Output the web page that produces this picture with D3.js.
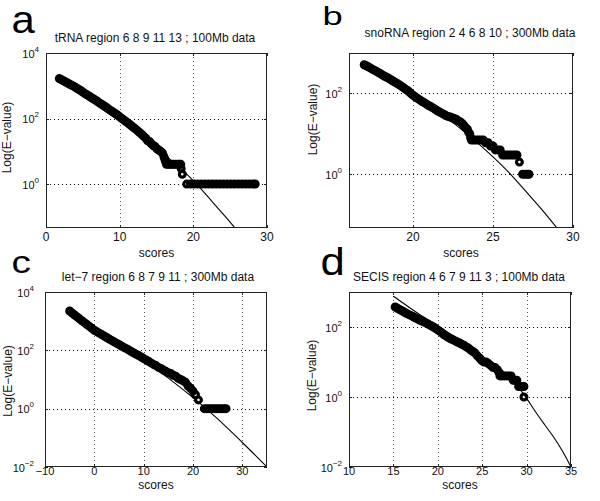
<!DOCTYPE html>
<html><head><meta charset="utf-8">
<script src="https://cdn.jsdelivr.net/npm/d3@7/dist/d3.min.js"></script>
<style>
html,body{margin:0;padding:0;background:#fff;}
svg{display:block;font-family:"Liberation Sans",Arial,Helvetica,sans-serif;}
</style></head>
<body>
<svg id="chart" width="600" height="501"></svg>
<script>
// ---------- DATA ----------
// Panel a: tRNA
const aScores = [1.8,2.05,2.3,2.55,2.8,3.05,3.3,3.55,3.8,4.05,4.3,4.55,4.8,5.05,5.3,5.55,5.8,6.05,6.3,6.55,6.8,7.05,7.3,7.55,7.8,8.05,8.3,8.55,8.8,9.05,9.3,9.55,9.8,10.05,10.3,10.55,10.8,11.05,11.3,11.55,11.8,12.05,12.3,12.55,12.8,13.05,13.3,13.55,13.8,14.05,14.3,14.55,14.8,15.05,15.3,15.55,15.8,16.0,16.1,16.2,16.35,16.6,16.85,17.1,17.35,17.6,17.85,18.1,18.3,18.35,18.5,
  19.1,19.6,20.1,20.6,21.1,21.6,22.1,22.6,23.1,23.6,24.1,24.6,25.1,25.6,26.1,26.6,27.1,27.6,28.1,28.4];
const aEvalues = [1660,1549,1445,1349,1259,1175,1096,1023,955,881,813,750,692,631,575,531,490,452,417,385,355,324,295,272,251,229,209,191,174,160,148,135,123,111,100,91,83,75,68,61,55,50,45,40,36,32,28,25,21,20,17,15,14,12,11,10,9,7,6,5,4,4,4,4,4,4,4,4,4,3,2,
  1,1,1,1,1,1,1,1,1,1,1,1,1,1,1,1,1,1,1,1];
const aLineScores = [1.8,4,6,8,10,12,14,16,18,19.2,21,23,25.5,26];
const aLineEvalues = [1780,890,479,240,115,52.5,21.4,8.5,3.31,1.91,0.724,0.224,0.0501,0.0355];
const aXTicks = [0,10,20,30];
const aYTickExps = [0,2,4];

// Panel b: snoRNA
const bScores = [16.95,17.075,17.2,17.325,17.45,17.575,17.7,17.825,17.95,18.075,18.2,18.325,18.45,18.575,18.7,18.825,18.95,19.075,19.2,19.325,19.45,19.575,19.7,19.825,19.95,20.075,20.2,20.325,20.45,20.575,20.7,20.825,20.95,21.075,21.2,21.325,21.45,21.575,21.7,21.825,21.95,22.075,22.2,22.325,22.45,22.575,22.7,22.825,22.95,23.075,23.2,23.3,23.4,23.475,23.55,23.6,
  23.65,23.8,23.95,24.1,24.25,24.4,24.55,24.7,24.85,25.0,25.15,25.3,25.45,25.6,25.75,25.9,26.05,26.2,26.35,26.5,26.65,26.85,27.0,27.15,27.25];
const bEvalues = [513,484,457,427,398,376,355,331,309,288,269,254,240,224,209,195,182,170,158,146,135,124,115,104,93,86,79,73,68,63,59,55,51,48,45,42,39,36,34,32,30,28,27,26,25,24,23,21,20,18,16,14,13,11,10,8,
  7,7,7,7,7,7,6,6,5,5,4,4,4,3,3,3,3,3,3,3,2,1,1,1,1];
const bLineScores = [16.95,18,19,20,21,22,23,24,25,26,27,28,29];
const bLineEvalues = [550,309,174,93.3,50.1,26.3,13.2,6.17,2.69,1.10,0.398,0.141,0.0468];
const bXTicks = [20,25,30];
const bYTickExps = [0,2];

// Panel c: let-7
const cScores = [-5,-4.5,-4,-3.5,-3,-2.5,-2,-1.5,-1,-0.5,0,0.5,1,1.5,2,2.5,3,3.5,4,4.5,5,5.5,6,6.5,7,7.5,8,8.5,9,9.5,10,10.5,11,11.5,12,12.5,13,13.5,14,14.5,15,15.5,16,16.5,17,17.5,18,18.5,19,19.5,20,20.5,21.1,
  22.3,22.8,23.3,23.8,24.3,24.8,25.3,25.8,26.3,26.7];
const cEvalues = [2240,1905,1620,1396,1200,1035,890,767,660,569,490,437,389,347,309,275,245,219,195,176,158,141,126,114,102,91,81,73,66,59,52,47,42,37,33,30,26,24,21,19,17,16,14,13,11,10,9,8,6,5,4,3,2,
  1,1,1,1,1,1,1,1,1,1];
const cLineScores = [-5,0,5,10,15,20,25,30,35];
const cLineEvalues = [1995,562,158,45.7,11.2,2.40,0.447,0.0692,0.01];
const cXTicks = [-10,0,10,20,30];
const cYTickExps = [-2,0,2,4];

// Panel d: SECIS
const dScores = [15.2,15.45,15.7,15.95,16.2,16.45,16.7,16.95,17.2,17.45,17.7,17.95,18.2,18.45,18.7,18.95,19.2,19.45,19.7,19.95,20.2,20.45,20.7,20.95,21.2,21.45,21.7,21.95,22.2,22.45,22.7,22.95,23.2,23.45,23.7,23.95,24.2,24.45,24.7,24.95,25.2,25.45,25.7,25.95,26.2,26.45,
  26.7,26.9,27.0,27.25,27.5,27.75,28.0,28.25,28.5,28.7,28.9,29.1,29.4,29.7,29.7];
const dEvalues = [372,343,316,292,269,248,229,214,200,184,170,158,148,138,129,119,110,101,93,84,76,68,60,55,50,46,43,40,37,35,32,30,27,25,22,20,18,15,13,11,10,10,9,8,7,7,
  6,5,4,4,4,4,4,4,3,3,3,2,2,2,1];
const dLineScores = [15,16,17,18,19,20,22,24,26,27,28,29,30,31,32,33,34,35];
const dLineEvalues = [759,501,331,224,155,107,50.1,21.9,9.55,6.31,3.98,2.0,0.912,0.380,0.166,0.0741,0.0295,0.01];
const dXTicks = [10,15,20,25,30,35];
const dYTickExps = [-2,0,2];

const titles = ["tRNA region 6 8 9 11 13 ; 100Mb data",
                "snoRNA region 2 4 6 8 10 ; 300Mb data",
                "let\u22127 region 6 8 7 9 11 ; 300Mb data",
                "SECIS region 4 6 7 9 11 3 ; 100Mb data"];
const letters = ["a","b","c","d"];
const xLabel = "scores";
const yLabel = "Log(E\u2212value)";

// ---------- LAYOUT ----------
const panels = [
  {letter:letters[0], title:titles[0], sc:aScores, ev:aEvalues, ls:aLineScores, le:aLineEvalues, xt:aXTicks, yt:aYTickExps,
   xd:[0,30], yd:[Math.pow(10,-1.34),1e4], box:{l:46,r:267,t:53,b:228},
   titleX:155, titleY:42, xlabY:257, tickY:241, tickFs:12, ylabX:10.5, ylabY:137.5, yLabGap:7,
   L:{x:11.5,y:33,fs:38,sx:1.1}},
  {letter:letters[1], title:titles[1], sc:bScores, ev:bEvalues, ls:bLineScores, le:bLineEvalues, xt:bXTicks, yt:bYTickExps,
   xd:[16,30], yd:[Math.pow(10,-1.33),1e3], box:{l:349,r:573,t:53,b:228},
   titleX:470, titleY:37, xlabY:257, tickY:241, tickFs:12, ylabX:316.5, ylabY:119.5, yLabGap:7,
   L:{x:322.5,y:25,fs:26,sx:1.4}},
  {letter:letters[2], title:titles[2], sc:cScores, ev:cEvalues, ls:cLineScores, le:cLineEvalues, xt:cXTicks, yt:cYTickExps,
   xd:[-10,35], yd:[1e-2,1e4], box:{l:45,r:267,t:292,b:467},
   titleX:158, titleY:281, xlabY:488.5, tickY:475, tickFs:11, ylabX:12, ylabY:381, yLabGap:11,
   L:{x:11.5,y:273,fs:31,sx:1.25}},
  {letter:letters[3], title:titles[3], sc:dScores, ev:dEvalues, ls:dLineScores, le:dLineEvalues, xt:dXTicks, yt:dYTickExps,
   xd:[10,35], yd:[1e-2,1e3], box:{l:349,r:571,t:292,b:467},
   titleX:459, titleY:281, xlabY:488.5, tickY:475, tickFs:11, ylabX:316, ylabY:375.5, yLabGap:7,
   L:{x:320.5,y:275,fs:39,sx:1.12}}
];

const svg = d3.select("#chart");
const ink = "#111";

panels.forEach((p,i) => {
  const B = p.box;
  const x = d3.scaleLinear().domain(p.xd).range([B.l, B.r]);
  const y = d3.scaleLog().domain(p.yd).range([B.b, B.t]);
  const g = svg.append("g");
  const clipId = "clip"+i;
  svg.append("clipPath").attr("id", clipId).append("rect")
     .attr("x", B.l).attr("y", B.t).attr("width", B.r-B.l).attr("height", B.b-B.t);

  // grid (dotted)
  const xg = p.xt.filter(v => v > p.xd[0] && v < p.xd[1]);
  const yg = p.yt.map(e => Math.pow(10,e)).filter(v => v > p.yd[0]*1.0001 && v < p.yd[1]*0.9999);
  g.selectAll(".gx").data(xg).enter().append("line")
    .attr("x1", d => Math.round(x(d))+0.5).attr("x2", d => Math.round(x(d))+0.5)
    .attr("y1", B.t).attr("y2", B.b)
    .attr("stroke","#555").attr("stroke-width",1).attr("stroke-dasharray","1,3");
  g.selectAll(".gy").data(yg).enter().append("line")
    .attr("y1", d => Math.round(y(d))+0.5).attr("y2", d => Math.round(y(d))+0.5)
    .attr("x1", B.l).attr("x2", B.r)
    .attr("stroke","#000").attr("stroke-width",1).attr("stroke-dasharray","1,3");

  // model line
  const lineData = p.ls.map((s,k) => [s, p.le[k]]);
  g.append("path").datum(lineData)
    .attr("clip-path", `url(#${clipId})`)
    .attr("d", d3.line().x(d => x(d[0])).y(d => y(d[1])).curve(d3.curveMonotoneX))
    .attr("fill","none").attr("stroke","#000").attr("stroke-width",1.1);

  // markers (open circles, thick outline)
  const pts = p.sc.map((s,k) => [s, p.ev[k]]);
  g.selectAll(".pt").data(pts).enter().append("circle")
    .attr("cx", d => x(d[0])).attr("cy", d => y(d[1])).attr("r", 2.9)
    .attr("fill","none").attr("stroke","#000").attr("stroke-width",3.2);

  // frame
  g.append("rect").attr("x", B.l+0.5).attr("y", B.t+0.5)
    .attr("width", B.r-B.l-1).attr("height", B.b-B.t-1)
    .attr("fill","none").attr("stroke","#222").attr("stroke-width",1);

  // ticks inward on all sides
  const tl = 3;
  p.xt.forEach(v => {
    const px = Math.round(x(v))+0.5;
    g.append("line").attr("x1",px).attr("x2",px).attr("y1",B.b).attr("y2",B.b-tl).attr("stroke","#222");
    g.append("line").attr("x1",px).attr("x2",px).attr("y1",B.t).attr("y2",B.t+tl).attr("stroke","#222");
  });
  p.yt.forEach(e => {
    const py = Math.round(y(Math.pow(10,e)))+0.5;
    g.append("line").attr("y1",py).attr("y2",py).attr("x1",B.l).attr("x2",B.l+tl).attr("stroke","#222");
    g.append("line").attr("y1",py).attr("y2",py).attr("x1",B.r).attr("x2",B.r-tl).attr("stroke","#222");
  });

  // x tick labels
  g.selectAll(".xl").data(p.xt).enter().append("text")
    .attr("x", d => x(d)).attr("y", p.tickY)
    .attr("text-anchor","middle").attr("font-size",p.tickFs).attr("fill",ink)
    .text(d => d < 0 ? "\u2212" + Math.abs(d) : d);

  // y tick labels 10^e
  p.yt.forEach(e => {
    const t = g.append("text").attr("x", B.l-p.yLabGap).attr("y", y(Math.pow(10,e))+4.5)
      .attr("text-anchor","end").attr("font-size",11).attr("fill",ink);
    t.append("tspan").text("10");
    t.append("tspan").attr("dy",-6).attr("font-size",8)
      .text(e < 0 ? "\u2212" + Math.abs(e) : e);
  });

  // title
  g.append("text").attr("x", p.titleX).attr("y", p.titleY)
    .attr("text-anchor","middle").attr("font-size",12).attr("fill",ink).text(p.title);

  // axis labels
  g.append("text").attr("x",(B.l+B.r)/2).attr("y",p.xlabY)
    .attr("text-anchor","middle").attr("font-size",12).attr("fill",ink).text(xLabel);
  g.append("text").attr("transform",`translate(${p.ylabX},${p.ylabY}) rotate(-90)`)
    .attr("text-anchor","middle").attr("font-size",12).attr("fill",ink).text(yLabel);

  // panel letter
  g.append("text").attr("transform",`translate(${p.L.x},${p.L.y}) scale(${p.L.sx},1)`)
    .attr("font-size",p.L.fs).attr("fill","#000").text(p.letter);
});
</script>
</body></html>
